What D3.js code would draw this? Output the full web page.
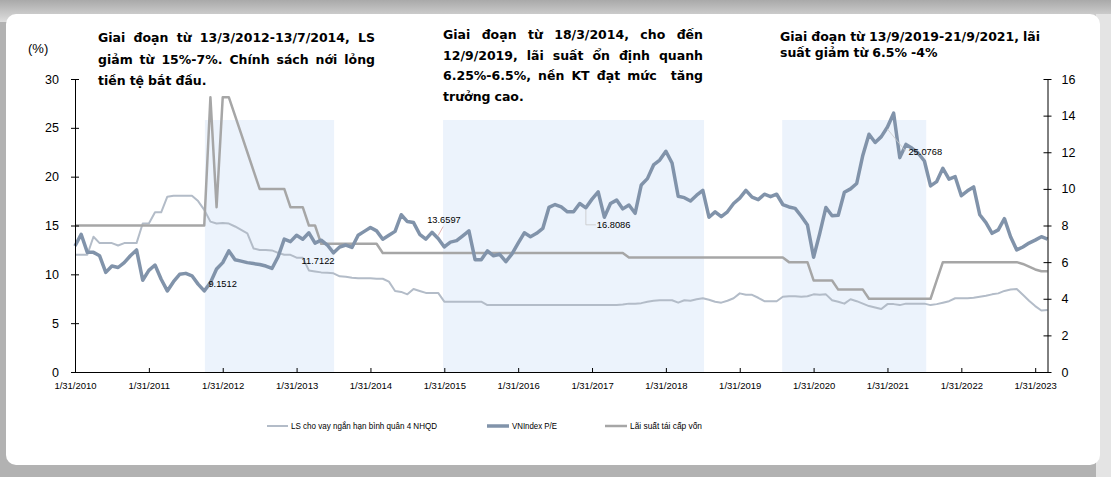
<!DOCTYPE html>
<html>
<head>
<meta charset="utf-8">
<script src="https://cdn.jsdelivr.net/npm/d3@7"></script>
<style>
  body { margin: 0; background: #fff; }
  svg { display: block; }
</style>
</head>
<body>
<svg id="drawingPane" width="1111" height="477"></svg>
<script>
const drawingPane = d3.select("#drawingPane");

//----------------------------------------------------------------------------------------------------------------------
// Data (monthly, 1/2010 .. 3/2023)
//----------------------------------------------------------------------------------------------------------------------
const xTickLabels = ["1/31/2010", "1/31/2011", "1/31/2012", "1/31/2013", "1/31/2014", "1/31/2015", "1/31/2016",
    "1/31/2017", "1/31/2018", "1/31/2019", "1/31/2020", "1/31/2021", "1/31/2022", "1/31/2023"];
const leftTicks = [0, 5, 10, 15, 20, 25, 30];
const rightTicks = [0, 2, 4, 6, 8, 10, 12, 14, 16];

// VNIndex P/E (left axis)
const peValues = [
    12.9, 14.1, 12.25, 12.25, 11.9, 10.2, 10.85, 10.7, 11.2, 11.9, 12.5, 9.4,
    10.4, 10.95, 9.5, 8.3, 9.25, 10.0, 10.1, 9.85, 9.0, 8.3, 9.15, 10.55,
    11.2, 12.4, 11.5, 11.35, 11.2, 11.1, 11.0, 10.85, 10.6, 11.8, 13.6, 13.35,
    14.0, 13.6, 14.25, 13.2, 13.5, 13.0, 12.2, 12.8, 13.0, 12.75, 14.0, 14.4,
    14.8, 14.45, 13.6, 14.0, 14.4, 16.1, 15.4, 15.3, 14.1, 13.6, 14.3, 13.66,
    12.8, 13.3, 13.45, 13.95, 14.45, 11.5, 11.5, 12.4, 11.9, 12.05, 11.3, 12.1,
    13.2, 14.25, 13.85, 14.2, 14.7, 16.85, 17.15, 16.9, 16.4, 16.4, 17.25, 16.81,
    17.7, 18.45, 15.85, 17.25, 17.6, 16.7, 17.1, 16.25, 19.15, 19.8, 21.2, 21.7,
    22.6, 21.4, 18.0, 17.85, 17.5, 18.1, 18.6, 15.85, 16.4, 15.9, 16.4, 17.25,
    17.8, 18.6, 17.9, 17.65, 18.2, 17.95, 18.2, 17.15, 16.9, 16.75, 15.95, 15.05,
    11.75, 14.2, 16.85, 16.0, 16.05, 18.4, 18.75, 19.3, 22.2, 24.35, 23.5, 24.1,
    25.08, 26.5, 21.95, 23.3, 22.9, 22.4, 21.6, 19.05, 19.5, 20.85, 19.75, 20.0,
    18.05, 18.55, 18.95, 16.1, 15.3, 14.2, 14.55, 15.7, 13.85, 12.5, 12.8, 13.2,
    13.5, 13.85, 13.6
];

// LS cho vay ngắn hạn bình quân 4 NHQD (left axis)
const lendingValues = [
    12.0, 12.0, 12.0, 13.85, 13.2, 13.2, 13.2, 12.95, 13.2, 13.2, 13.2, 15.2,
    15.2, 16.35, 16.35, 17.95, 18.05, 18.05, 18.05, 18.05, 17.5, 16.6, 15.4, 15.2,
    15.25, 15.2, 14.9, 14.55, 14.2, 12.65, 12.5, 12.5, 12.45, 12.2, 12.0, 12.0,
    11.71, 11.7, 10.4, 10.3, 10.2, 10.15, 10.1, 9.8, 9.75, 9.65, 9.6, 9.6,
    9.6, 9.55, 9.55, 9.25, 8.3, 8.2, 7.95, 8.5, 8.3, 8.1, 8.1, 8.1,
    7.2, 7.2, 7.2, 7.2, 7.2, 7.2, 7.2, 6.85, 6.85, 6.85, 6.85, 6.85,
    6.85, 6.85, 6.85, 6.85, 6.85, 6.85, 6.85, 6.85, 6.85, 6.85, 6.85, 6.85,
    6.85, 6.85, 6.85, 6.85, 6.85, 6.9, 7.0, 7.0, 7.05, 7.2, 7.3, 7.35,
    7.35, 7.35, 7.1, 7.35, 7.3, 7.45, 7.55, 7.4, 7.2, 7.1, 7.3, 7.55,
    8.05, 7.9, 7.9, 7.6, 7.25, 7.25, 7.25, 7.7, 7.75, 7.75, 7.7, 7.75,
    7.95, 7.9, 7.95, 7.35, 7.2, 7.0, 7.45, 7.25, 7.0, 6.75, 6.6, 6.45,
    6.95, 6.95, 6.85, 7.0, 7.0, 7.0, 7.0, 6.85, 6.95, 7.1, 7.25, 7.55,
    7.55, 7.55, 7.6, 7.7, 7.8, 7.95, 8.05, 8.3, 8.45, 8.5, 7.9, 7.3,
    6.75, 6.3, 6.35
];

// Lãi suất tái cấp vốn (right axis)
const refiValues = [
    8, 8, 8, 8, 8, 8, 8, 8, 8, 8, 8, 8,
    8, 8, 8, 8, 8, 8, 8, 8, 8, 8, 15, 9,
    15, 15, 14, 13, 12, 11, 10, 10, 10, 10, 10, 9,
    9, 9, 8, 8, 7, 7, 7, 7, 7, 7, 7, 7,
    7, 7, 6.5, 6.5, 6.5, 6.5, 6.5, 6.5, 6.5, 6.5, 6.5, 6.5,
    6.5, 6.5, 6.5, 6.5, 6.5, 6.5, 6.5, 6.5, 6.5, 6.5, 6.5, 6.5,
    6.5, 6.5, 6.5, 6.5, 6.5, 6.5, 6.5, 6.5, 6.5, 6.5, 6.5, 6.5,
    6.5, 6.5, 6.5, 6.5, 6.5, 6.5, 6.25, 6.25, 6.25, 6.25, 6.25, 6.25,
    6.25, 6.25, 6.25, 6.25, 6.25, 6.25, 6.25, 6.25, 6.25, 6.25, 6.25, 6.25,
    6.25, 6.25, 6.25, 6.25, 6.25, 6.25, 6.25, 6.25, 6, 6, 6, 6,
    5, 5, 5, 5, 4.5, 4.5, 4.5, 4.5, 4.5, 4, 4, 4,
    4, 4, 4, 4, 4, 4, 4, 4, 5, 6, 6, 6,
    6, 6, 6, 6, 6, 6, 6, 6, 6, 6, 5.9, 5.75,
    5.6, 5.5, 5.5
];

// shaded periods, in month positions
const shadeStarts = [21.1, 59.8, 114.9];
const shadeEnds = [42.1, 102.2, 138.3];
const shadeTop = 25.8;

// data labels
const labelSeries = ["pe", "lending", "pe", "pe", "pe"];
const labelIndex = [22, 36, 59, 83, 132];
const labelText = ["9.1512", "11.7122", "13.6597", "16.8086", "25.0768"];

const legendNames = ["LS cho vay ngắn hạn bình quân 4 NHQD", "VNIndex P/E", "Lãi suất tái cấp vốn"];

const note1 = ["Giai đoạn từ 13/3/2012-13/7/2014, LS", "giảm từ 15%-7%. Chính sách nới lỏng", "tiền tệ bắt đầu."];
const note2 = ["Giai đoạn từ 18/3/2014, cho đến", "12/9/2019, lãi suất ổn định quanh", "6.25%-6.5%, nền KT đạt mức  tăng", "trưởng cao."];
const note3 = ["Giai đoạn từ 13/9/2019-21/9/2021, lãi", "suất giảm từ 6.5% -4%"];

//----------------------------------------------------------------------------------------------------------------------
// Layout / styles
//----------------------------------------------------------------------------------------------------------------------
const plot = {left: 75, right: 1047.5, top: 79, bottom: 372};
const colors = {pe: "#8193aa", lending: "#b3bcc8", refi: "#a6a6a6", shade: "#ecf3fc"};
const tickFont = "'Liberation Sans', Arial, sans-serif";
const noteFont = "'DejaVu Sans', Verdana, sans-serif";

const xScale = d3.scaleLinear().domain([0, peValues.length - 1]).range([plot.left, plot.right]);
const yLeft = d3.scaleLinear().domain([0, 30]).range([plot.bottom, plot.top]);
const yRight = d3.scaleLinear().domain([0, 16]).range([plot.bottom, plot.top]);

function drawFrame() {
    const defs = drawingPane.append("defs");
    const grad = defs.append("linearGradient").attr("id", "topGrad")
        .attr("x1", 0).attr("y1", 0).attr("x2", 0).attr("y2", 1);
    grad.append("stop").attr("offset", "0%").attr("stop-color", "#a9a9a9");
    grad.append("stop").attr("offset", "100%").attr("stop-color", "#dedede");

    drawingPane.append("rect").attr("width", 1111).attr("height", 477).attr("fill", "#b2b2b2");
    drawingPane.append("rect").attr("width", 1111).attr("height", 22).attr("fill", "url(#topGrad)");
    drawingPane.append("rect").attr("x", 1096).attr("y", 14).attr("width", 15).attr("height", 463).attr("fill", "#e4e4e4");
    drawingPane.append("rect")
        .attr("x", 6).attr("y", 14).attr("width", 1094).attr("height", 451).attr("rx", 10)
        .attr("fill", "#ffffff");
}

function drawShading(g) {
    g.selectAll(".shade")
        .data(shadeStarts)
        .enter().append("rect")
        .attr("class", "shade")
        .attr("x", d => xScale(d))
        .attr("y", yLeft(shadeTop))
        .attr("width", (d, i) => xScale(shadeEnds[i]) - xScale(d))
        .attr("height", yLeft(0) - yLeft(shadeTop))
        .attr("fill", colors.shade);
}

function drawAxes(g) {
    // x axis
    const xAxis = d3.axisBottom(xScale)
        .tickValues(xTickLabels.map((d, i) => i * 12))
        .tickFormat((d, i) => xTickLabels[i])
        .tickSizeInner(-4).tickSizeOuter(0).tickPadding(10);
    const gx = g.append("g").attr("transform", "translate(0," + plot.bottom + ")").call(xAxis);
    gx.selectAll("text").attr("font-family", tickFont).attr("font-size", 9.5).attr("fill", "#000");

    // left axis
    const gl = g.append("g").attr("transform", "translate(" + plot.left + ",0)")
        .call(d3.axisLeft(yLeft).tickValues(leftTicks).tickSizeOuter(0).tickSizeInner(4).tickPadding(12));
    gl.selectAll(".tick line").attr("x2", 4).attr("x1", -4);

    // right axis
    const gr = g.append("g").attr("transform", "translate(" + plot.right + ",0)")
        .call(d3.axisRight(yRight).tickValues(rightTicks).tickSizeOuter(0).tickSizeInner(4).tickPadding(10));
    gr.selectAll(".tick line").attr("x2", 4).attr("x1", -4);

    for (const ax of [gl, gr]) {
        ax.selectAll("text").attr("font-family", tickFont).attr("font-size", 12.5).attr("fill", "#000");
    }
    g.selectAll(".domain").attr("stroke", "#000");
    g.selectAll(".tick line").attr("stroke", "#000");

    g.append("text")
        .attr("x", 28).attr("y", 53)
        .attr("font-family", tickFont).attr("font-size", 13)
        .text("(%)");
}

function drawSeries(g) {
    const leftLine = d3.line().x((d, i) => xScale(i)).y(d => yLeft(d));
    const rightLine = d3.line().x((d, i) => xScale(i)).y(d => yRight(d));

    g.append("path").datum(lendingValues)
        .attr("d", leftLine).attr("fill", "none")
        .attr("stroke", colors.lending).attr("stroke-width", 2).attr("stroke-linejoin", "round");
    g.append("path").datum(refiValues)
        .attr("d", rightLine).attr("fill", "none")
        .attr("stroke", colors.refi).attr("stroke-width", 2.5).attr("stroke-linejoin", "round");
    g.append("path").datum(peValues)
        .attr("d", leftLine).attr("fill", "none")
        .attr("stroke", colors.pe).attr("stroke-width", 3.5).attr("stroke-linejoin", "round");
}

function drawLabels(g) {
    const offsets = [[-2, 4], [5, 6], [-11, -16], [11, 20], [21, 28]];
    labelText.forEach((t, i) => {
        const vals = labelSeries[i] === "pe" ? peValues : lendingValues;
        const px = xScale(labelIndex[i]);
        const py = yLeft(vals[labelIndex[i]]);
        const lx = px + offsets[i][0], ly = py + offsets[i][1];
        if (i === 3) {
            g.append("path")
                .attr("d", "M" + px + "," + (py + 2) + "V" + (ly - 3) + "H" + (lx - 1))
                .attr("fill", "none").attr("stroke", "#c8c8c8").attr("stroke-width", 0.8);
        } else if (i === 4) {
            g.append("line").attr("x1", px).attr("y1", py + 2).attr("x2", lx - 3).attr("y2", ly - 4)
                .attr("stroke", "#c8c8c8").attr("stroke-width", 0.8);
        } else if (i === 2) {
            g.append("line").attr("x1", px).attr("y1", py - 3).attr("x2", px + 5).attr("y2", ly + 4)
                .attr("stroke", "#d9a0a0").attr("stroke-width", 0.8);
        }
        g.append("text")
            .attr("x", lx).attr("y", ly)
            .attr("font-family", tickFont).attr("font-size", 9.3)
            .attr("fill", "#000")
            .text(t);
    });
}

function drawLegend(g) {
    const itemX = [267, 487, 605];
    const lineLen = [21, 22, 22];
    const textW = [146, 45, 72];
    const strokes = [[colors.lending, 2], [colors.pe, 3.5], [colors.refi, 2.5]];
    const y = 426;
    legendNames.forEach((name, i) => {
        g.append("line")
            .attr("x1", itemX[i]).attr("x2", itemX[i] + lineLen[i])
            .attr("y1", y).attr("y2", y)
            .attr("stroke", strokes[i][0]).attr("stroke-width", strokes[i][1]);
        g.append("text")
            .attr("x", itemX[i] + lineLen[i] + 3).attr("y", y + 3)
            .attr("font-family", tickFont).attr("font-size", 9)
            .attr("textLength", textW[i]).attr("lengthAdjust", "spacingAndGlyphs")
            .text(name);
    });
}

// paragraph with optional justified lines (like the word boxes in the source)
function drawNote(g, lines, x, y0, width, lineH, justifyCount, size) {
    lines.forEach((line, li) => {
        const words = line.split(" ");
        const t = g.append("text")
            .attr("font-family", noteFont).attr("font-weight", "bold")
            .attr("font-size", size).attr("fill", "#000")
            .attr("y", y0 + li * lineH);
        const spans = words.map(w => t.append("tspan").text(w));
        const widths = spans.map(s => s.node().getComputedTextLength());
        const total = d3.sum(widths);
        const gap = li < justifyCount && words.length > 1 ? (width - total) / (words.length - 1) : size * 0.32;
        let cx = x;
        spans.forEach((s, k) => {
            s.attr("x", cx);
            cx += widths[k] + gap;
        });
    });
}

function draw() {
    drawingPane.selectAll("*").remove();
    drawFrame();
    const g = drawingPane.append("g");
    drawShading(g);
    drawSeries(g);
    drawAxes(g);
    drawLabels(g);
    drawLegend(g);
    drawNote(g, note1, 98, 42, 277, 21.5, 2, 12.5);
    drawNote(g, note2, 443, 39, 260, 20.7, 3, 12.5);
    drawNote(g, note3, 780, 41, 264, 16, 0, 12.5);
}

draw();
</script>
</body>
</html>
